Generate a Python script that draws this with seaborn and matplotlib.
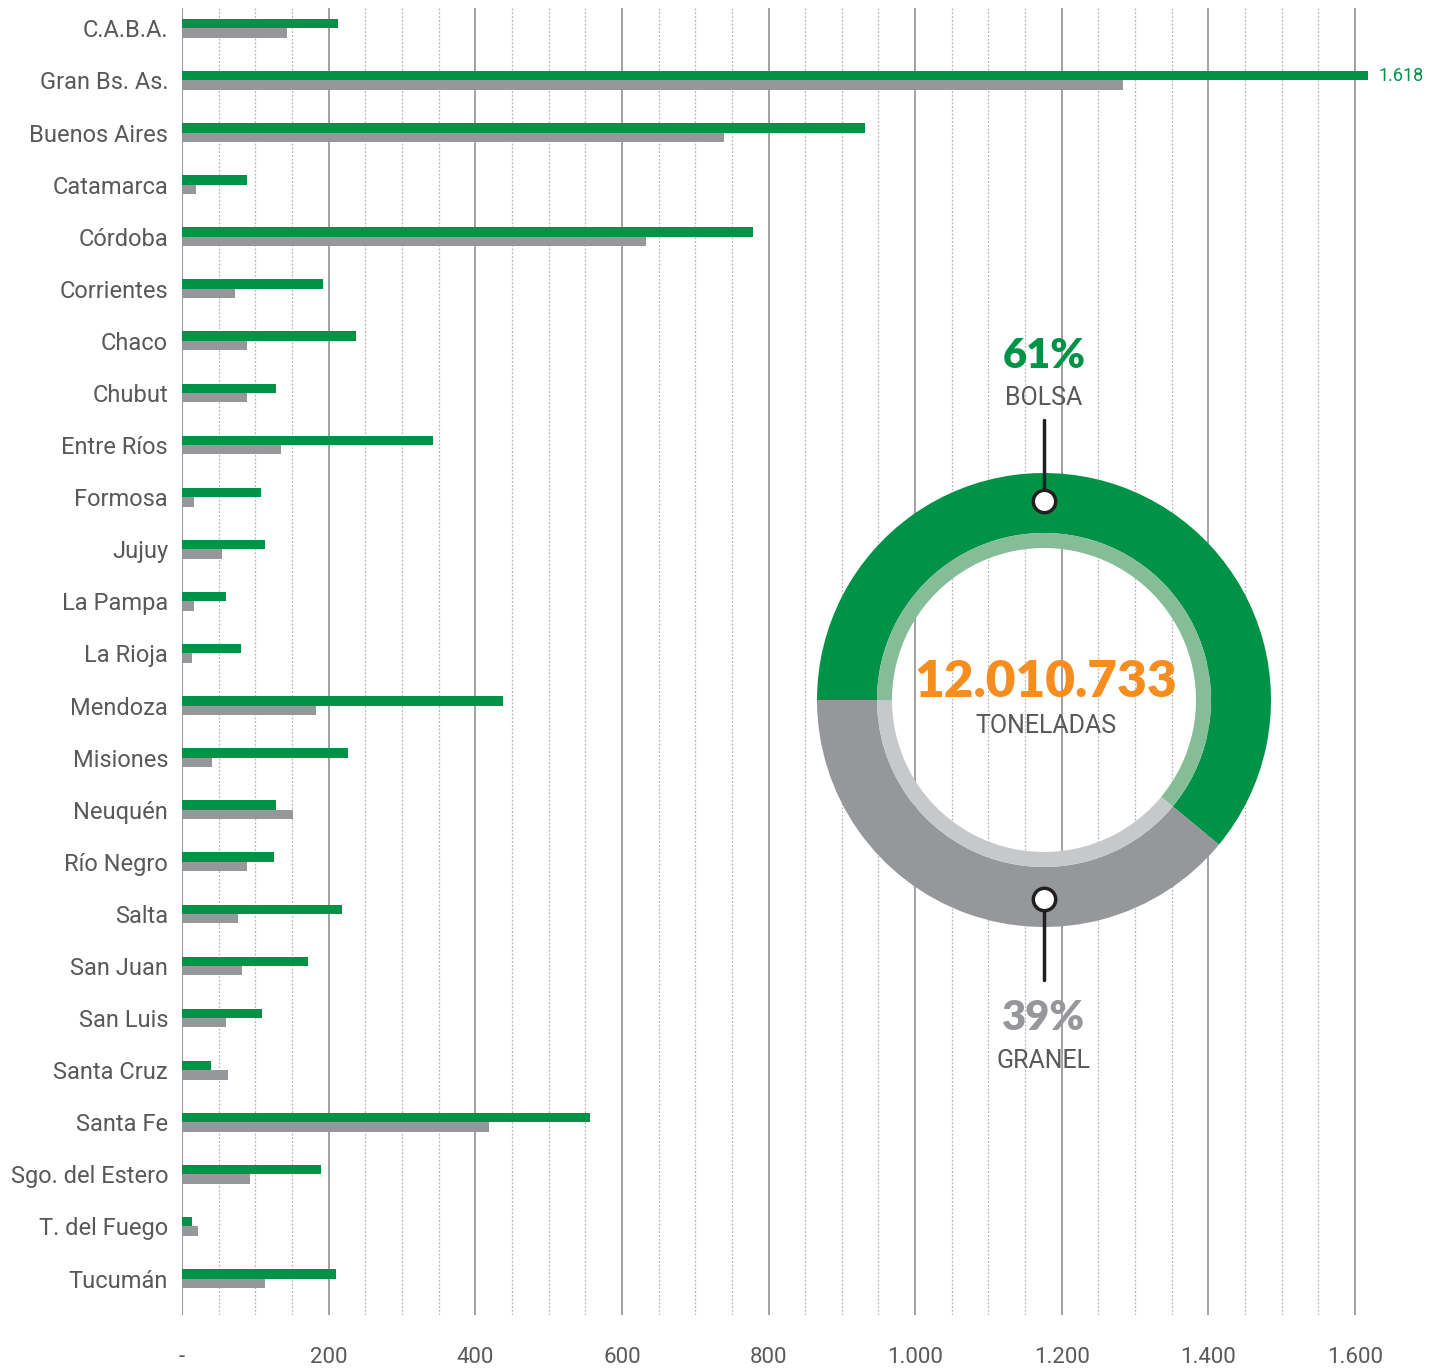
import numpy as np
import pandas as pd
import matplotlib
matplotlib.use("Agg")
import matplotlib.pyplot as plt
import seaborn as sns
from matplotlib.ticker import FixedLocator

# ---------------- data ----------------
provincias = ["C.A.B.A.", "Gran Bs. As.", "Buenos Aires", "Catamarca", "Córdoba",
              "Corrientes", "Chaco", "Chubut", "Entre Ríos", "Formosa", "Jujuy",
              "La Pampa", "La Rioja", "Mendoza", "Misiones", "Neuquén", "Río Negro",
              "Salta", "San Juan", "San Luis", "Santa Cruz", "Santa Fe",
              "Sgo. del Estero", "T. del Fuego", "Tucumán"]
bolsa = [213, 1618, 931, 89, 779, 192, 237, 128, 342, 108, 113, 60, 80, 438,
         226, 128, 125, 218, 172, 109, 40, 556, 190, 14, 210]
granel = [143, 1283, 739, 19, 633, 72, 89, 89, 135, 16, 55, 16, 14, 183,
          41, 151, 89, 76, 82, 60, 63, 419, 93, 22, 113]
series_names = ["Bolsa", "Granel"]
x_ticks = [0, 200, 400, 600, 800, 1000, 1200, 1400, 1600]
x_ticklabels = ["-", "200", "400", "600", "800", "1.000", "1.200", "1.400", "1.600"]
share_labels = ["BOLSA", "GRANEL"]
share_values = [61, 39]
total_text = "12.010.733"
total_unit = "TONELADAS"
max_label = "1.618"

GREEN = "#009348"
GRAY = "#96979A"
LIGHT_GREEN = "#84BD97"
LIGHT_GRAY = "#C7C8CA"
ORANGE = "#F68D1F"
TEXT = "#58595B"

df = pd.DataFrame({
    "provincia": provincias * 2,
    "valor": bolsa + granel,
    "tipo": [series_names[0]] * len(provincias) + [series_names[1]] * len(provincias),
})

sns.set_theme(style="white")
plt.rcParams["font.family"] = ["Roboto", "DejaVu Sans"]

W, H = 1445, 1371
fig = plt.figure(figsize=(W / 100, H / 100), dpi=100)

def px_rect(x0, y0, x1, y1):
    return [x0 / W, 1 - y1 / H, (x1 - x0) / W, (y1 - y0) / H]

ax = fig.add_axes(px_rect(182, 8, 1443, 1315))
sns.barplot(data=df, y="provincia", x="valor", hue="tipo", orient="h",
            palette=[GREEN, GRAY], hue_order=series_names, order=provincias,
            width=0.36, gap=0, dodge=True, legend=False, ax=ax, saturation=1,
            linewidth=0, errorbar=None)

ax.set_xlim(0, 1720)
ax.set_ylim(24.70, -0.39)
ax.xaxis.set_major_locator(FixedLocator(x_ticks))
minor = [v for v in range(50, x_ticks[-1], 50) if v % 200 != 0]
ax.xaxis.set_minor_locator(FixedLocator(minor))
ax.set_xticklabels(x_ticklabels)
ax.grid(axis="x", which="major", color="#9A9A9A", linewidth=1.3, linestyle="-")
ax.grid(axis="x", which="minor", color="#B5B5B5", linewidth=0.9, linestyle=(0, (1.5, 1.5)))
ax.set_axisbelow(True)
for s in ax.spines.values():
    s.set_visible(False)
ax.axvline(0, color="#9A9A9A", linewidth=1.5, zorder=0.5)
ax.tick_params(axis="x", which="both", length=0, pad=23, labelsize=16, labelcolor=TEXT)
ax.tick_params(axis="y", length=0, pad=10, labelsize=17, labelcolor=TEXT)
ax.set_xlabel("")
ax.set_ylabel("")

# value label for max bar
imax = int(np.argmax(bolsa))
ax.text(bolsa[imax] + 14, imax - 0.09, max_label, color=GREEN, fontsize=13,
        va="center", ha="left")

# ---------------- donut ----------------
cx, cy, R = 1044, 700, 227
dax = fig.add_axes(px_rect(cx - R, cy - R, cx + R, cy + R))
dax.pie(share_values, colors=[GREEN, GRAY], startangle=180, counterclock=False,
        radius=1.0, wedgeprops=dict(width=60 / R, linewidth=0))
dax.pie(share_values, colors=[LIGHT_GREEN, LIGHT_GRAY], startangle=180, counterclock=False,
        radius=167 / R, wedgeprops=dict(width=15 / R, linewidth=0))
dax.set_xlim(-1, 1)
dax.set_ylim(-1, 1)
dax.set_aspect("equal")
dax.axis("off")

my = 199 / R
dax.plot([0, 0], [my, 280 / R], color="#231F20", linewidth=2.5, clip_on=False, zorder=3)
dax.plot([0, 0], [-my, -280 / R], color="#231F20", linewidth=2.5, clip_on=False, zorder=3)
dax.scatter([0, 0], [my, -my], s=260, facecolor="white", edgecolor="#231F20",
            linewidth=2.5, zorder=4, clip_on=False)

def ftext(x, y, s, **kw):
    fig.text(x / W, 1 - y / H, s, ha="center", va="center", **kw)

ftext(1044, 356, f"{share_values[0]}%", color=GREEN, fontsize=30, fontweight="heavy",
      family=["Lato", "DejaVu Sans"])
ftext(1044, 398, share_labels[0], color=TEXT, fontsize=18)
ftext(1046, 682, total_text, color=ORANGE, fontsize=37, fontweight="heavy",
      family=["Lato", "DejaVu Sans"])
ftext(1046, 726, total_unit, color=TEXT, fontsize=18)
ftext(1044, 1018, f"{share_values[1]}%", color=GRAY, fontsize=30, fontweight="heavy",
      family=["Lato", "DejaVu Sans"])
ftext(1044, 1061, share_labels[1], color=TEXT, fontsize=18)

fig.savefig("out.png", dpi=100, facecolor="white")
